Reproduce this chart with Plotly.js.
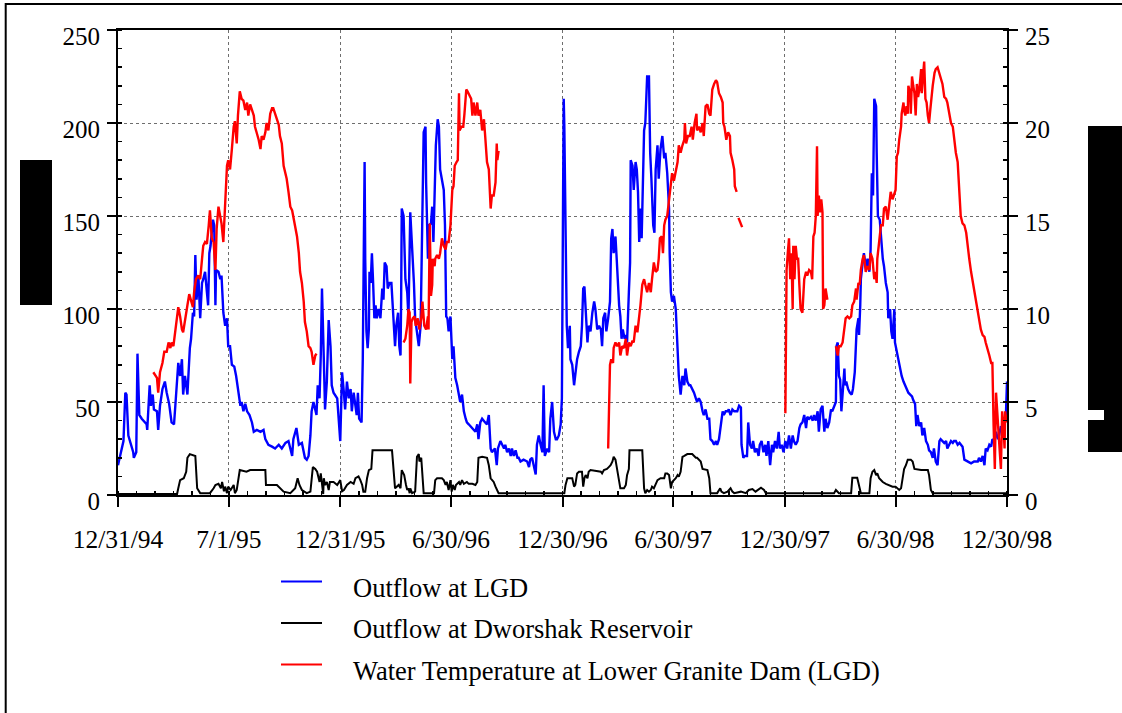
<!DOCTYPE html>
<html><head><meta charset="utf-8">
<script src="https://cdn.plot.ly/plotly-3.0.1.min.js"></script>
<style>html,body{margin:0;padding:0;background:#fff;overflow:hidden}#chart{width:1122px;height:713px}</style>
</head><body><div id="chart"></div>
<script>
// Day offsets counted from 12/31/94
const lgdDays = [
0,9,12,14,17,20,25,26,30,32, 35,39,47,48,52,54,57,59,64,66,
69,73,77,80,84,88,92,95,99,102, 105,107,110,114,116,118,120,123,125,127,
129,132,135,138,140,143,146,148,150,152, 156,158,160,161,165,168,170,173,176,179,
181,184,187,191,194,197,201,203,206,209, 212,216,220,223,228,234,239,242,247,253,
258,264,269,275,280,286,288,293,297,302, 305,307,310,313,316,318,321,326,328,331,
333,335,338,340,343,346,349,351,354,360, 365,368,371,373,376,379,382,384,387,390,
392,394,396,400,402,405,406,408,410,412, 413,415,417,419,421,423,425,428,431,434,
436,438,441,443,446,449,451,453,455,457, 460,462,464,465,466,469,472,475,477,480,
483,486,488,491,494,497,499,502,505,506, 509,511,514,516,518,520,522,525,527,529,
532,535,537,539,541,543,546,549,551,554, 557,560,562,565,568,571,573,576,582,587,
590,592,595,598,603,606,609,612,614,619, 622,624,628,631,634,636,639,642,645,647,
650,653,656,658,661,666,672,675,677,680, 683,686,688,691,694,697,699,701,705,708,
710,713,716,719,721,724,727,729,731,732, 733,735,737,739,742,743,746,749,751,754,
757,760,762,764,766,768,771,773,776,779, 782,784,787,790,793,795,797,800,802,805,
808,810,812,814,817,819,821,823,825,827, 829,832,834,836,839,841,842,845,847,850,
852,854,856,858,860,862,864,866,869,872, 874,876,879,881,883,886,888,891,894,897,
899,902,905,906,908,910,913,916,919,921, 924,927,930,932,935,938,940,943,946,949,
951,954,957,960,962,965,968,971,973,976, 979,982,984,987,990,993,995,998,1001,1003,
1006,1009,1012,1014,1017,1020,1023,1024,1027,1029, 1033,1035,1038,1041,1043,1046,1049,1052,1054,1057,
1060,1063,1065,1068,1071,1074,1076,1079,1082,1085, 1087,1090,1093,1096,1099,1102,1105,1108,1110,1113,
1116,1119,1121,1124,1127,1130,1132,1135,1138,1141, 1143,1146,1149,1151,1154,1157,1160,1162,1165,1168,
1171,1173,1176,1179,1180,1182,1184,1186,1188,1190, 1193,1194,1196,1199,1202,1205,1207,1210,1212,1213,
1216,1217,1219,1220,1223,1225,1228,1231,1234,1236, 1238,1240,1242,1245,1246,1248,1251,1253,1256,1258,
1261,1264,1265,1268,1270,1272,1275,1276,1279,1282, 1285,1287,1290,1293,1296,1298,1301,1304,1306,1309,
1311,1313,1316,1319,1321,1324,1327,1330,1332,1335, 1338,1340,1343,1346,1349,1351,1354,1357,1360,1362,
1365,1368,1371,1373,1376,1379,1382,1384,1387,1390, 1395,1401,1406,1412,1414,1417,1420,1423,1425,1428,
1431,1434,1436,1439,1442,1445,1447,1450,1453,1456, 1458,1460];
// Outflow at LGD (left axis)
const lgdFlow = [
16,29,55,54,32,29,23,20,23,76, 43,41,38,35,59,48,54,46,45,35,
48,57,61,55,49,39,38,52,71,64, 73,54,64,54,70,79,84,98,96,129,
105,118,95,114,116,120,109,102,130,134, 148,145,102,121,120,116,118,98,91,95,
80,80,70,69,64,57,48,50,45,49, 45,43,39,34,35,34,35,30,27,26,
25,27,25,28,29,21,30,36,27,28, 23,20,19,21,32,45,50,43,59,52,
75,111,73,46,61,94,80,59,55,52, 29,66,55,46,61,52,57,45,55,48,
43,55,41,39,73,179,127,88,79,89, 120,114,130,114,95,102,95,100,95,111,
105,125,123,111,114,114,104,89,80,91, 98,80,75,105,154,150,116,109,95,152,
136,114,95,88,80,91,143,195,198,168, 127,145,146,155,136,168,188,202,198,175,
170,164,145,96,95,88,96,73,80,63, 59,54,50,54,45,41,39,38,36,34,
38,30,39,41,39,38,43,25,23,25, 16,25,29,27,25,27,23,25,21,25,
21,24,20,20,18,19,18,15,19,20, 16,11,27,32,27,23,59,21,25,23,
41,50,34,30,30,32,38,52,163,213, 198,145,91,79,91,73,70,59,64,73,
77,80,91,111,112,102,82,91,88,98, 104,100,89,91,89,80,95,98,88,95,
104,138,143,130,139,127,112,102,96,84, 89,84,86,82,109,125,180,177,164,179,
175,163,136,154,138,177,196,200,225,225, 184,170,145,141,175,188,170,186,193,181,
184,173,154,130,109,104,107,100,73,64, 54,64,59,68,61,59,59,57,55,52,
50,52,50,45,43,46,41,41,30,29, 27,29,27,30,38,45,43,45,45,46,
43,46,45,45,45,48,47,27,20,21, 21,39,27,25,29,23,25,21,27,29,
23,27,21,29,16,27,23,29,25,34, 25,27,23,29,25,32,25,32,29,27,
29,36,38,39,43,36,42,41,42,40, 43,40,45,34,46,48,34,41,36,39,
46,45,48,50,80,82,64,62,45,55, 68,59,61,57,55,54,57,66,82,89,
95,86,102,116,125,130,123,127,120,132, 173,161,213,209,184,150,148,138,127,123,
114,109,95,100,88,84,100,82,77,73, 66,64,61,59,57,55,54,53,51,49,
37,43,37,39,32,36,29,27,24,23, 20,25,18,16,29,30,29,28,29,25,
27,29,28,29,29,27,28,27,26,19, 18,17,18,18,20,18,21,16,25,24,
27,26,30,29,34,30,32,37,35,39, 41,61];

// Outflow at Dworshak Reservoir (left axis)
const dwDays = [
0,97,99,102,108,112,114,118,127,128, 130,135,151,157,160,165,169,171,174,176,
179,181,185,190,192,195,198,200,211,217, 242,243,261,266,272,283,291,295,298,302,
310,316,320,324,327,331,333,337,338,340, 343,346,348,354,360,365,368,371,376,382,
387,390,395,398,401,403,406,409,412,416, 418,450,452,454,455,461,464,466,470,473,
475,477,479,480,483,488,491,494,495,498, 500,502,519,521,524,532,535,538,540,543,
546,548,550,553,555,560,562,565,568,573, 576,582,587,590,592,598,606,609,612,617,
620,623,625,729,733,735,738,746,749,751, 754,757,762,764,766,768,771,773,776,793,
795,798,803,806,809,812,814,817,820,823, 825,831,834,836,839,840,861,864,866,869,
872,875,877,880,883,886,891,897,899,902, 905,908,910,913,916,919,921,924,927,930,
935,943,946,949,951,957,960,965,968,971, 973,984,989,991,995,1001,1006,1009,1012,1023,
1031,1036,1042,1047,1053,1056,1061,1064,1110,1172, 1176,1179,1182,1184,1204,1206,1214,1217,1220,1234,
1236,1239,1242,1245,1247,1250,1253,1256,1261,1267, 1272,1277,1283,1286,1288,1291,1294,1297,1302,1305,
1308,1319,1330,1332,1335,1338,1460];
const dwFlow = [
0.5,0.5,3.6,8,9,12.5,20,22,21,12.5, 3.6,1,1,3.6,5.4,6,3.6,7,2,4.5,
1,4.5,2.7,5.4,1,2.7,9,13.4,12.5,13.4, 13.4,5.4,5.4,3.6,1.8,1,3.6,9,5.4,2.7,
1,1.8,15,14,12.5,7,11.6,0.5,9,5.4, 7,2.7,7,7,5.4,8,2,2.7,5.4,7,
6,9,10,8,5.4,1.8,1.8,9,13.4,14, 24,24,16,7,3.6,5.4,3.6,13.4,10.7,5.4,
2.7,3.6,1,3.6,1,1.8,20.5,22,18,20, 9,1,1,8,9,9,8,5.4,7,2.7,
8,1.8,5.4,2.7,5.4,7,5.4,8,6,7, 6,6,5.4,7,20,20.5,20,16,9,7,
4.5,1.8,1,1,1,5.4,9,9,4.5,5.4, 11.6,12.5,12.5,4.5,9,10.7,9,12.5,13.4,12.5,
11.6,13.4,14,15,16,18,20.5,19,14,9, 3.6,3.6,5.4,10.7,14,24,24,3.6,1,2.7,
1.8,2.7,4.5,3.6,5.4,8,9,9,11.6,11.6, 10.7,3.6,7,8,9,10.7,9.8,12.5,20.5,21,
22,22,21,20,20,18,14,13.4,13.4,9, 1,1,3.6,1.8,1,1.8,3.6,1.8,1,1.8,
1,2.7,3.2,1.8,3.2,3.9,2.7,1,1,1, 1,2.7,1.8,1,1,9.3,9.3,5.4,1,1,
9,12.5,13.4,10.7,11.6,9,8,7,6,5.4, 4.5,4.5,2.7,3.6,9,14,16,19,19,18,
14,13.4,13.4,10.7,2.7,1,1];

// Water temperature at LGD (right axis, deg C); null = no record
const tempDays = [
58,64,66,69,73,76,80,83,86,88, 91,94,97,99,102,105,107,110,114,117,
120,123,125,128,132,135,138,140,143,146, 149,151,154,157,160,162,165,168,170,173,
176,179,181,184,187,190,192,195,197,200, 203,206,209,212,214,217,220,223,225,228,
231,234,236,239,242,244,247,250,253,255, 258,261,264,266,269,272,275,277,280,283,
286,288,291,294,297,299,302,305,307,310, 313,316,318,321,324,326,null,
469,472,475,477,479,480,482,484,487,489, 492,495,498,500,503,506,509,510,512,514,
516,517,520,521,524,527,529,532,535,538, 540,543,546,549,551,553,556,558,560,561,
564,567,569,572,574,577,580,582,584,587, 590,592,595,598,601,603,606,609,611,612,
614,617,620,622,623,625,null,
805,808,810,813,814,817,820,823,825,828, 831,834,836,839,842,845,847,850,853,856,
858,861,864,866,869,872,875,877,880,883, 886,888,890,893,895,897,899,902,905,908,
910,913,916,919,921,924,927,930,931,933, 936,939,942,944,947,950,951,954,957,960,
962,965,968,971,973,976,979,982,984,987, 990,993,994,996,999,1002,1005,1006,1009,1012,
1013,1016,null,1019,1023,1025,null,
1096,1097,1098,1100,1102,1104,1106,1108,1109,1111, 1113,1115,1117,1119,1121,1124,1127,1130,1132,1135,
1138,1140,1142,1144,1146,1148,1149,1151,1153,1155, 1157,1158,1160,1162,1165,null,
1179,1182,1184,1187,1190,1193,1195,1198,1201,1204, 1206,1209,1212,1213,1216,1218,1220,1223,1225,1228,
1231,1234,1236,1239,1242,1244,1246,1247,1250,1253, 1256,1258,1261,1264,1267,1269,1272,1275,1277,1279,
1281,1283,1286,1287,1290,1291,1293,1295,1297,1298, 1301,1302,1304,1306,1308,1310,1312,1314,1316,1319,
1320,1322,1324,1326,1328,1330,1332,1334,1336,1338, 1341,1343,1346,1349,1351,1354,1357,1360,1362,1365,
1368,1371,1373,1376,1379,1382,1384,1387,1390,1393, 1395,1398,1401,1404,1406,1409,1412,1414,1417,1420,
1423,1425,1428,1431,1434,1436,1438,1440,1442,1444, 1445,1447,1450,1452,1454,1456,1457,1459,1460];
const tempC = [
6.6,6.3,5.5,6.6,7.1,7.7,7.7,8.2,7.9,8.2, 8.0,8.8,9.5,10.1,9.6,8.9,8.75,9.5,10.2,10.8,
10.4,10.1,10.9,11.6,11.8,11.6,12.7,13.4,13.6,13.5, 14.5,15.3,13.8,13.6,12.1,14.3,15.5,15.0,14.6,13.6,
15.7,17.7,18.0,17.5,18.6,19.8,20.1,18.9,20.4,21.7, 21.3,21.2,20.7,21.1,20.4,21.0,20.7,20.4,19.8,19.5,
19.1,18.6,19.3,19.1,19.5,20.0,19.6,20.5,20.8,20.8, 20.5,20.3,19.9,19.3,18.9,17.7,17.3,17.0,16.3,15.5,
15.3,14.9,14.5,13.9,13.0,12.0,11.4,10.4,9.3,8.8, 8.0,7.9,7.7,7.0,7.5,7.6,null,
8.2,8.4,9.1,10.0,9.8,6.0,9.3,9.5,9.6,9.1, 9.5,8.9,9.5,10.4,9.1,8.9,9.6,8.9,14.6,10.7,
11.3,12.7,12.3,12.7,12.9,12.7,13.0,13.8,13.4,13.2, 13.6,13.6,14.5,16.4,16.6,17.7,17.9,18.0,21.6,19.6,
19.8,19.8,20.5,21.8,21.7,21.5,21.3,20.4,21.1,20.4, 21.1,20.4,20.7,19.6,20.2,19.3,17.9,17.5,16.3,15.4,
16.1,16.1,16.8,18.9,18.0,18.5,null,
2.5,7.0,7.3,7.1,7.9,8.2,8.0,8.2,7.5,8.0, 7.9,8.4,7.5,8.2,8.0,8.3,8.2,9.1,8.75,9.5,
10.2,11.3,11.6,11.3,10.9,11.4,10.9,11.6,12.5,12.0, 12.1,12.7,13.8,13.9,13.0,14.5,14.8,15.0,15.9,16.8,
17.3,16.9,17.5,17.9,18.8,18.4,18.8,19.1,20.0,18.9, 19.3,19.3,19.8,19.1,20.0,20.5,19.6,19.8,19.5,20.0,
19.3,20.9,21.0,20.5,20.4,21.8,22.1,22.3,22.2,21.6, 21.4,21.1,20.0,19.8,19.1,19.5,19.3,18.4,18.0,17.5,
16.6,16.3,null,14.9,14.5,14.4,null,
4.4,11.6,12.1,13.0,13.8,11.6,13.0,10.0,13.4,11.6, 13.4,12.7,12.7,11.3,10.0,9.8,11.6,12.0,11.8,12.1,
12.0,11.6,13.9,14.1,15.0,18.75,15.0,16.1,15.2,15.9, 15.2,10.0,10.2,11.1,10.5,null,
8.0,7.5,8.0,8.0,8.2,9.1,9.5,9.6,9.5,9.6, 10.2,10.4,11.1,10.5,11.4,11.3,12.1,12.7,12.9,12.0,
12.3,12.1,13.0,12.7,11.6,12.0,11.4,12.7,13.8,14.5, 14.5,15.4,15.5,14.8,15.7,16.3,15.9,16.3,16.4,18.2,
18.4,19.1,19.8,20.5,21.1,20.7,20.4,20.9,20.5,22.0, 21.6,20.5,22.5,22.0,21.6,20.4,22.1,21.4,21.8,22.9,
21.6,22.5,23.3,21.3,21.1,20.4,20.0,20.7,21.6,22.0, 22.7,22.9,23.0,22.7,22.5,22.1,21.4,21.3,21.1,20.5,
20.0,19.8,19.1,18.4,17.9,16.4,15.0,14.6,14.5,14.1, 13.4,12.7,12.0,11.4,10.9,10.4,9.8,9.5,8.9,8.6,
8.5,8.2,7.9,7.5,7.1,7.1,3.75,1.4,5.5,4.6, 4.3,2.9,1.4,4.5,3.75,2.5,4.5,3.9,4.3];

const tickDates = ['1994-12-31','1995-07-01','1995-12-31','1996-06-30','1996-12-30','1997-06-30','1997-12-30','1998-06-30','1998-12-30'];
const tickLabels = ['12/31/94','7/1/95','12/31/95','6/30/96','12/30/96','6/30/97','12/30/97','6/30/98','12/30/98'];
const seriesNames = ['Outflow at LGD','Outflow at Dworshak Reservoir','Water Temperature at Lower Granite Dam (LGD)'];
const seriesColors = ['#0000ff','#000000','#ff0000'];

const BASE = Date.UTC(1994, 11, 31);
const DAY = 86400000;
const toX = d => (d === null ? null : BASE + d * DAY);

const traces = [
  {x: dwDays.map(toX), y: dwFlow, type:'scatter', mode:'lines', name: seriesNames[1],
   line:{color: seriesColors[1], width:2}, yaxis:'y'},
  {x: lgdDays.map(toX), y: lgdFlow, type:'scatter', mode:'lines', name: seriesNames[0],
   line:{color: seriesColors[0], width:2.4}, yaxis:'y'},
  {x: tempDays.map(toX), y: tempC, type:'scatter', mode:'lines', name: seriesNames[2],
   line:{color: seriesColors[2], width:2.4}, yaxis:'y2', connectgaps:false}
];

// pixel -> paper helpers (plot area 118..1007 x 30..495)
const PL = 118, PR = 1007, PT = 30, PB = 495;
const px = p => (p - PL) / (PR - PL);
const py = p => (PB - p) / (PB - PT);

const SERIF = 'Liberation Serif, Times New Roman, serif';
const mkFont = s => ({family: SERIF, size: s, color: 'black'});

const shapes = [
  {type:'rect', xref:'paper', yref:'paper', x0:px(5.7), x1:px(1140), y0:py(730), y1:py(4),
   line:{color:'black', width:2}, fillcolor:'rgba(0,0,0,0)'},
  {type:'rect', xref:'paper', yref:'paper', x0:px(20), x1:px(52), y0:py(305), y1:py(160),
   line:{width:0}, fillcolor:'black'},
  {type:'rect', xref:'paper', yref:'paper', x0:px(1088), x1:px(1130), y0:py(410), y1:py(126),
   line:{width:0}, fillcolor:'black'},
  {type:'rect', xref:'paper', yref:'paper', x0:px(1104), x1:px(1130), y0:py(421), y1:py(409),
   line:{width:0}, fillcolor:'black'},
  {type:'rect', xref:'paper', yref:'paper', x0:px(1088), x1:px(1130), y0:py(452), y1:py(420),
   line:{width:0}, fillcolor:'black'}
];
const legendRowsY = [581.5, 623, 664.5];
const legendOrder = [0, 1, 2];
const annotations = [];
legendOrder.forEach((k, i) => {
  shapes.push({type:'line', xref:'paper', yref:'paper', x0:px(281), x1:px(322),
    y0:py(legendRowsY[i]), y1:py(legendRowsY[i]), line:{color:seriesColors[k], width:2}});
  annotations.push({xref:'paper', yref:'paper', x:px(351), y:py(legendRowsY[i] + 6),
    xanchor:'left', yanchor:'middle', showarrow:false, text:seriesNames[k],
    font: mkFont(26.5)});
});

const layout = {
  width:1122, height:713,
  margin:{l:PL, r:1122-PR, t:PT, b:713-PB, pad:0},
  paper_bgcolor:'white', plot_bgcolor:'white',
  showlegend:false, hovermode:false,
  font: mkFont(25),
  xaxis:{
    type:'date', range:[toX(0), toX(1460)],
    tickmode:'array', tickvals: tickDates, ticktext: tickLabels,
    ticks:'outside', ticklen:10, tickwidth:2, tickcolor:'black',
    showline:true, linewidth:2, linecolor:'black', mirror:true,
    showgrid:true, gridcolor:'#6e6e6e', gridwidth:1, griddash:'dot',
    zeroline:false, tickfont: mkFont(25.5), ticklabelstandoff: 10,
    minor:{tickmode:'linear', tick0: toX(0), dtick: 30.4167*DAY, ticks:'inside', ticklen:4,
           tickwidth:1.5, tickcolor:'black', showgrid:false}
  },
  yaxis:{
    range:[0,250], tickmode:'linear', tick0:0, dtick:50,
    ticks:'outside', ticklen:9, tickwidth:2, tickcolor:'black',
    showline:true, linewidth:2, linecolor:'black',
    showgrid:true, gridcolor:'#6e6e6e', gridwidth:1, griddash:'dot',
    zeroline:false, tickfont: mkFont(25), ticklabelstandoff: 2, ticklabelshift: 6,
    minor:{tickmode:'linear', tick0:0, dtick:10, ticks:'inside', ticklen:4, tickwidth:1.5,
           tickcolor:'black', showgrid:false}
  },
  yaxis2:{
    range:[0,25], tickmode:'linear', tick0:0, dtick:5, overlaying:'y', side:'right',
    ticks:'outside', ticklen:9, tickwidth:2, tickcolor:'black',
    showline:true, linewidth:2, linecolor:'black', showgrid:false, zeroline:false,
    tickfont: mkFont(25), ticklabelstandoff: 2, ticklabelshift: 6,
    minor:{tickmode:'linear', tick0:0, dtick:1, ticks:'inside', ticklen:4, tickwidth:1.5,
           tickcolor:'black', showgrid:false}
  },
  shapes: shapes,
  annotations: annotations
};

Plotly.newPlot('chart', traces, layout, {displayModeBar:false, staticPlot:true});
</script>
</body></html>
